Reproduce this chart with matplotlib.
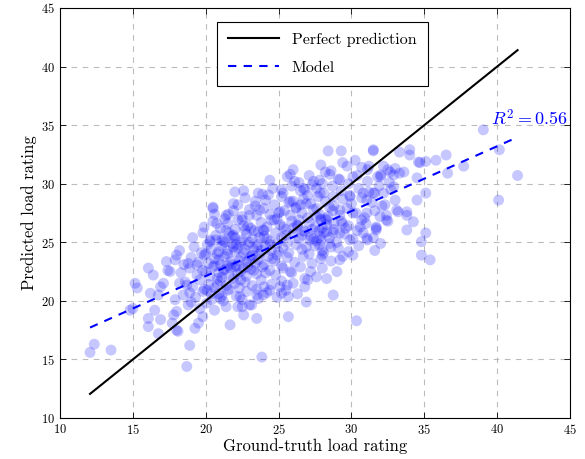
import matplotlib.pyplot as plt
import numpy as np

# ground-truth / predicted load ratings
pts = [
    # sparse low-left tail
    (12.06, 15.6), (12.35, 16.3), (13.5, 15.8), (18.7, 14.4), (18.9, 16.2),
    (23.85, 15.2), (23.5, 18.5), (30.35, 18.3), (21.67, 17.95), (22.6, 18.8),
    (25.67, 18.65), (26.9, 19.9), (28.75, 20.5), (19.8, 18.65), (20.6, 19.2),
    (21.4, 19.5), (22.2, 19.5), (23.0, 19.65), (23.15, 19.65), (19.6, 19.35),
    (20.06, 19.8), (19.26, 17.65), (19.5, 18.1), (18.0, 17.5), (22.5, 19.5),
    # left arm
    (18.0, 23.9), (17.3, 23.35), (16.06, 22.8), (16.4, 22.2), (15.15, 21.5),
    (15.3, 21.1), (16.2, 20.65), (16.9, 21.2), (16.75, 20.5), (15.0, 19.35),
    (14.8, 19.2), (16.5, 19.2), (16.06, 18.5), (16.06, 17.8), (16.9, 18.4),
    (16.75, 17.2), (17.7, 18.1), (18.1, 17.4), (18.0, 19.1), (17.8, 18.8),
    (18.8, 19.65), (17.55, 22.5), (17.1, 21.5), (18.2, 21.5), (18.7, 21.35),
    (18.8, 23.2), (19.4, 23.05), (17.9, 20.1), (18.45, 20.5), (19.0, 19.9),
    (17.4, 22.6), (20.5, 28.0), (20.75, 26.6), (21.4, 27.3),
    # right arm
    (39.05, 34.6), (40.15, 32.9), (41.4, 30.7), (40.1, 28.6), (36.5, 32.45),
    (35.8, 32.0), (37.7, 31.5), (36.6, 30.9), (35.1, 31.9), (34.0, 32.9),
    (33.3, 32.7), (31.5, 32.9), (34.6, 31.85), (35.1, 29.2), (34.5, 28.6),
    (34.5, 30.5), (33.8, 27.3), (34.25, 26.75), (35.1, 25.8), (34.8, 25.05),
    (34.8, 23.9), (35.4, 23.5), (31.6, 24.3), (32.0, 24.9), (31.1, 25.2),
    (32.4, 26.9), (31.7, 26.3), (33.1, 27.75), (33.6, 31.0), (32.9, 30.75),
    (32.5, 31.2), (32.0, 30.75), (31.1, 31.2), (32.9, 29.75), (32.2, 29.2),
    (31.6, 29.2), (31.05, 28.6), (32.3, 28.2), (30.7, 26.9), (34.0, 32.45),
    (34.7, 31.8), (33.8, 27.6), (33.8, 26.05), (30.1, 23.9), (29.2, 23.5),
    # upper part
    (28.4, 32.8), (29.3, 32.8), (31.5, 32.8), (29.7, 31.5), (30.25, 32.0),
    (28.2, 31.0), (31.2, 31.5), (27.4, 30.2), (26.7, 29.6), (29.2, 30.35),
    (30.1, 30.6), (32.0, 30.6), (32.65, 31.0), (33.3, 30.9), (31.5, 29.2),
    (30.8, 29.2), (29.9, 28.9), (28.75, 28.9), (27.85, 29.2), (26.9, 28.3),
    (29.2, 27.75), (30.1, 27.5), (31.05, 27.5), (31.96, 27.2), (27.6, 27.2),
    (28.3, 26.9), (29.4, 26.6), (30.6, 26.3), (31.7, 26.05), (28.75, 25.8),
    (27.85, 25.5), (27.15, 25.2), (29.9, 25.2), (31.05, 25.35),
    (25.8, 30.8), (26.1, 30.2), (22.0, 29.3), (23.6, 29.2), (24.3, 29.05),
    (25.2, 29.5), (26.8, 29.5), (20.5, 27.9), (21.55, 27.4), (22.2, 28.2),
    (23.4, 28.5), (22.2, 26.9), (23.0, 27.3), (23.7, 27.75), (25.8, 28.5),
    (25.1, 27.6), (26.5, 28.2), (24.5, 26.9), (20.3, 25.05), (21.1, 25.2),
    (21.9, 25.6), (22.7, 26.05), (23.95, 26.05), (25.3, 26.3), (26.25, 26.5),
    # lower middle
    (28.3, 21.9), (29.0, 22.5), (27.6, 22.05), (26.8, 21.2), (25.6, 21.35),
    (25.67, 20.35), (25.2, 20.65), (23.95, 20.5), (26.8, 21.9), (25.8, 22.5),
    (25.1, 21.2), (24.4, 20.9), (23.5, 20.5), (22.35, 20.35), (21.0, 20.2),
    # dense core
    (19.3, 20.3), (19.8, 20.8), (20.4, 20.1), (20.9, 20.6), (21.5, 20.9),
    (22.1, 20.4), (22.8, 20.8), (23.6, 20.2), (24.2, 20.7), (24.9, 20.3),
    (25.5, 20.9), (26.3, 20.6), (20.1, 20.9), (21.2, 20.0), (18.9, 20.7),
    (22.5, 20.1),
    (18.6, 21.6), (19.1, 21.2), (19.6, 21.8), (20.2, 21.4), (20.6, 21.1),
    (21.0, 21.7), (21.4, 21.3), (21.9, 21.9), (22.3, 21.1), (22.7, 21.6),
    (23.2, 21.3), (23.8, 21.8), (24.5, 21.4), (25.2, 21.7), (26.0, 21.5),
    (27.0, 21.8), (19.9, 21.0), (20.8, 21.9), (22.0, 21.5), (23.5, 21.0),
    (24.0, 21.2),
    (18.3, 22.4), (18.9, 22.8), (19.4, 22.2), (19.8, 22.6), (20.3, 22.1),
    (20.5, 22.9), (20.9, 22.4), (21.3, 22.7), (21.6, 22.2), (22.0, 22.9),
    (22.4, 22.5), (22.8, 22.1), (23.1, 22.7), (23.5, 22.3), (23.9, 22.9),
    (24.4, 22.6), (24.8, 22.2), (25.3, 22.8), (25.9, 22.4), (26.5, 22.9),
    (27.2, 22.5), (28.0, 22.8), (21.1, 22.0), (22.6, 22.8), (20.0, 22.5),
    (17.9, 23.5), (18.5, 23.1), (19.0, 23.7), (19.5, 23.3), (19.9, 23.9),
    (20.2, 23.2), (20.6, 23.6), (21.0, 23.1), (21.3, 23.8), (21.7, 23.4),
    (22.1, 23.0), (22.4, 23.7), (22.8, 23.3), (23.2, 23.9), (23.6, 23.5),
    (24.0, 23.1), (24.3, 23.8), (24.7, 23.4), (25.2, 23.0), (25.6, 23.7),
    (26.1, 23.3), (26.7, 23.8), (27.3, 23.2), (27.9, 23.6), (28.6, 23.4),
    (29.4, 23.8), (21.5, 23.0), (23.0, 23.6), (20.9, 23.5), (24.9, 23.9),
    (18.2, 24.3), (19.2, 24.6), (19.7, 24.1), (20.1, 24.8), (20.4, 24.4),
    (20.8, 24.0), (21.1, 24.7), (21.5, 24.3), (21.8, 24.9), (22.2, 24.5),
    (22.6, 24.1), (22.9, 24.8), (23.3, 24.4), (23.7, 24.0), (24.1, 24.7),
    (24.5, 24.3), (24.9, 24.9), (25.3, 24.5), (25.7, 24.1), (26.2, 24.8),
    (26.6, 24.4), (27.1, 24.0), (27.5, 24.7), (28.0, 24.3), (28.5, 24.9),
    (29.1, 24.5), (29.8, 24.2), (30.5, 24.7), (20.0, 24.0), (23.5, 24.6),
    (25.0, 24.2), (27.8, 24.8),
    (19.1, 25.4), (19.8, 25.8), (20.3, 25.2), (20.7, 25.6), (21.2, 25.1),
    (21.6, 25.8), (22.0, 25.4), (22.4, 25.0), (22.8, 25.7), (23.2, 25.3),
    (23.6, 25.9), (24.0, 25.5), (24.4, 25.1), (24.8, 25.8), (25.2, 25.4),
    (25.6, 25.0), (26.0, 25.7), (26.4, 25.3), (26.8, 25.9), (27.2, 25.5),
    (27.6, 25.1), (28.1, 25.8), (28.5, 25.4), (29.0, 25.0), (29.5, 25.7),
    (30.1, 25.3), (30.8, 25.8), (31.5, 25.4), (21.8, 25.5), (25.5, 25.6),
    (27.9, 25.2),
    (19.9, 26.3), (20.5, 26.8), (21.0, 26.2), (21.5, 26.6), (22.0, 26.1),
    (22.5, 26.9), (22.9, 26.4), (23.3, 26.0), (23.8, 26.7), (24.2, 26.3),
    (24.7, 26.9), (25.1, 26.5), (25.5, 26.1), (25.9, 26.8), (26.3, 26.4),
    (26.7, 26.0), (27.1, 26.7), (27.5, 26.3), (27.9, 26.9), (28.3, 26.5),
    (28.8, 26.1), (29.3, 26.8), (29.8, 26.4), (30.4, 26.0), (31.0, 26.6),
    (31.7, 26.2), (32.5, 26.8), (24.0, 26.0), (26.0, 26.2), (28.0, 26.2),
    (20.6, 27.4), (21.3, 27.0), (21.9, 27.7), (22.5, 27.2), (23.0, 27.8),
    (23.5, 27.3), (24.0, 27.9), (24.4, 27.4), (24.9, 27.0), (25.4, 27.7),
    (25.8, 27.3), (26.2, 27.9), (26.6, 27.5), (27.0, 27.1), (27.4, 27.8),
    (27.8, 27.4), (28.2, 27.0), (28.7, 27.7), (29.2, 27.3), (29.7, 27.9),
    (30.3, 27.5), (30.9, 27.1), (31.6, 27.7), (32.4, 27.3), (33.2, 27.6),
    (25.0, 27.5), (27.6, 27.9),
    (21.9, 28.3), (22.7, 28.8), (23.4, 28.1), (24.1, 28.6), (24.7, 28.2),
    (25.2, 28.9), (25.7, 28.4), (26.2, 28.0), (26.7, 28.7), (27.2, 28.3),
    (27.7, 28.9), (28.2, 28.5), (28.8, 28.1), (29.4, 28.7), (30.0, 28.3),
    (30.7, 28.8), (31.4, 28.4), (32.1, 28.1), (33.0, 28.6), (26.0, 28.5),
    (28.5, 28.0),
    (22.6, 29.4), (23.9, 29.1), (24.6, 29.6), (25.3, 29.2), (25.9, 29.8),
    (26.5, 29.4), (27.0, 29.0), (27.6, 29.6), (28.1, 29.2), (28.7, 29.8),
    (29.3, 29.4), (29.9, 29.0), (30.5, 29.6), (31.2, 29.3), (31.9, 29.8),
    (32.7, 29.5), (27.3, 29.9),
    (24.4, 30.3), (25.6, 30.6), (26.4, 30.1), (27.1, 30.7), (27.8, 30.3),
    (28.5, 30.8), (29.1, 30.4), (29.8, 30.0), (30.4, 30.7), (31.1, 30.2),
    (31.8, 30.6), (32.6, 30.1), (28.0, 30.0),
    (26.0, 31.2), (27.9, 31.6), (28.6, 31.1), (29.4, 31.8), (30.7, 31.4),
    (32.2, 31.5), (33.0, 31.3),
    # darker overlap spots
    (21.2, 22.6), (21.8, 23.1), (22.3, 23.4), (22.9, 22.9), (23.4, 23.2),
    (21.5, 24.0), (22.0, 24.2), (22.7, 24.4), (23.1, 23.8), (23.8, 24.3),
    (21.3, 25.0), (21.9, 24.6), (22.5, 25.2), (23.0, 25.0), (23.6, 24.8),
    (24.2, 25.3), (20.6, 23.0), (20.9, 24.2), (22.2, 22.3), (23.3, 22.6),
    (24.1, 22.4), (24.6, 23.6), (22.6, 26.4), (23.1, 26.2), (21.4, 26.0),
    (20.7, 25.2), (21.7, 22.8), (22.1, 24.8), (23.7, 25.4), (24.4, 24.8),
    (26.9, 24.6), (27.4, 25.3), (27.8, 26.0), (28.3, 25.9), (28.8, 26.6),
    (27.3, 26.1), (26.6, 25.6), (28.6, 24.6), (29.2, 25.8), (27.9, 27.0),
    (28.4, 27.2), (26.4, 26.9), (29.6, 26.2), (28.0, 23.9), (28.1, 24.1),
    (20.8, 21.4), (21.6, 21.0), (22.4, 21.8), (21.1, 20.4), (20.4, 20.6),
]
ground_truth = np.array([p[0] for p in pts])
predicted = np.array([p[1] for p in pts])

# linear model fit as drawn in the reference
fit_slope = 0.554
fit_intercept = 11.04
r2 = 0.56

plt.rcParams['font.family'] = 'serif'
plt.rcParams['font.serif'] = ['cmr10', 'DejaVu Serif']
plt.rcParams['mathtext.fontset'] = 'cm'
plt.rcParams['axes.formatter.use_mathtext'] = True

fig = plt.figure(figsize=(5.85, 4.59), dpi=100)
ax = fig.add_axes([0.1026, 0.0893, 0.8718, 0.8933])

ax.scatter(ground_truth, predicted, s=62, c='blue', alpha=0.22,
           edgecolors='none', zorder=2)

xl = np.array([ground_truth.min(), ground_truth.max()])
ax.plot(xl, xl, color='black', lw=1.5, label='Perfect prediction', zorder=3)
ax.plot(xl, fit_slope * xl + fit_intercept, color='blue', lw=1.5,
        dashes=(4, 3.5), label='Model', zorder=3)

ax.text(44.85, 35.6, r'$R^2 = %.2f$' % r2, color='blue', fontsize=13,
        ha='right', va='center')

ax.set_xlim(10, 45)
ax.set_ylim(10, 45)
ax.set_xticks(np.arange(10, 46, 5))
ax.set_yticks(np.arange(10, 46, 5))
ax.tick_params(direction='in', top=True, right=True, labelsize=9,
               length=4, width=0.6)
ax.grid(True, color='#bbbbbb', linestyle=(0, (5, 5)), lw=0.8, zorder=0)
ax.set_axisbelow(True)
for sp in ax.spines.values():
    sp.set_linewidth(0.8)

ax.set_xlabel('Ground-truth load rating', fontsize=12, labelpad=1)
ax.set_ylabel('Predicted load rating', fontsize=12, labelpad=3)

leg = ax.legend(loc='upper center', bbox_to_anchor=(0.514, 0.967),
                borderaxespad=0, fontsize=11.5, handlelength=3.2,
                fancybox=False, edgecolor='black', framealpha=1,
                borderpad=0.7, labelspacing=0.85)
leg.get_frame().set_linewidth(0.8)

fig.savefig('out.png', dpi=100)
